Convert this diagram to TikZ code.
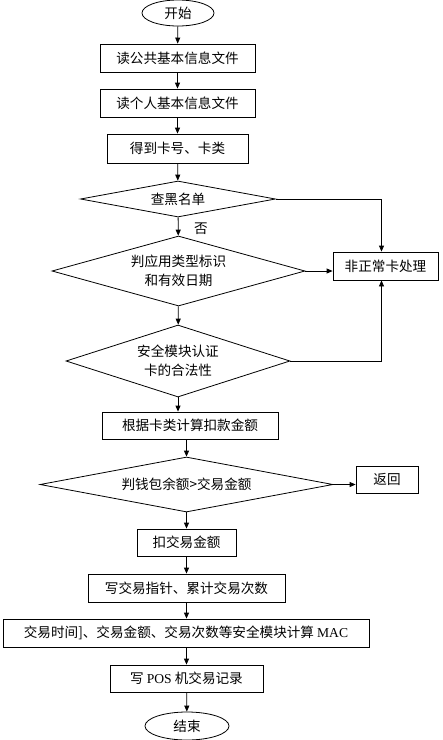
\documentclass[tikz,border=0pt]{standalone}
\usepackage{fontspec}
\setmainfont{Liberation Serif}
\newfontfamily\cjk{Noto Sans CJK SC}
\usetikzlibrary{shapes.geometric,arrows.meta}
\begin{document}
\begin{tikzpicture}[x=1pt,y=-1pt,
  every node/.style={font=\cjk\fontsize{13.6}{19}\selectfont, inner sep=0pt, align=center},
  procbox/.style={draw, line width=0.8pt, minimum height=28pt},
  decbox/.style={draw, diamond, line width=0.8pt},
  termbox/.style={draw, ellipse, line width=0.8pt},
  conn/.style={line width=0.8pt, -{Triangle[length=6pt,width=5pt]}},
  plain/.style={line width=0.8pt}]
\useasboundingbox (0,0) rectangle (443,740);
\node[termbox, minimum width=72pt, minimum height=26pt] (start) at (178,13) {开始};
\node[procbox, minimum width=155pt] (b1) at (177.5,58) {读公共基本信息文件};
\node[procbox, minimum width=155pt] (b2) at (177.5,103) {读个人基本信息文件};
\node[procbox, minimum width=141pt, minimum height=29pt] (b3) at (177.5,148.5) {得到卡号、卡类};
\node[decbox, minimum width=195pt, minimum height=36pt, shape aspect=5.4] (d1) at (178,199) {查黑名单};
\node (no) at (201,229) {否};
\node[decbox, minimum width=253pt, minimum height=70pt, shape aspect=3.6] (d2) at (178.5,271) {判应用类型标识\\和有效日期};
\node[procbox, minimum width=105pt] (abn) at (385.5,266) {非正常卡处理};
\node[decbox, minimum width=224pt, minimum height=72pt, shape aspect=3.1] (d3) at (178,361) {安全模块认证\\卡的合法性};
\node[procbox, minimum width=176pt, minimum height=27pt] (calc) at (190,425.5) {根据卡类计算扣款金额};
\node[decbox, minimum width=293pt, minimum height=55pt, shape aspect=5.3] (d4) at (186.5,484.5) {判钱包余额>交易金额};
\node[procbox, minimum width=62pt, minimum height=27pt] (ret) at (387,479.5) {返回};
\node[procbox, minimum width=99pt, minimum height=27pt] (b5) at (186.5,542.5) {扣交易金额};
\node[procbox, minimum width=197pt] (b6) at (186.5,588) {写交易指针、累计交易次数};
\node[procbox, minimum width=366pt] (b7) at (186,633) {交易时间]、交易金额、交易次数等安全模块计算 {\rmfamily MAC}};
\node[procbox, minimum width=153pt, minimum height=27pt] (b8) at (186.5,678.5) {写 {\rmfamily POS} 机交易记录};
\node[termbox, minimum width=84pt, minimum height=28pt] (end) at (187,726) {结束};

\draw[conn] (start) -- (b1);
\draw[conn] (b1) -- (b2);
\draw[conn] (b2) -- (b3);
\draw[conn] (b3) -- (d1);
\draw[conn] (d1) -- (d2);
\draw[conn] (d1.east) -| ([xshift=-4pt]abn.north);
\draw[conn] (d2.east) -- (d2.east -| abn.west);
\draw[conn] (d3.east) -| ([xshift=-4pt]abn.south);
\draw[conn] (d2) -- (d3);
\draw[conn] (d3.south) -- (d3.south |- calc.north);
\draw[conn] (calc.south -| d4.north) -- (d4.north);
\draw[conn] (d4.east) -- (d4.east -| ret.west);
\draw[conn] (d4) -- (b5);
\draw[conn] (b5) -- (b6);
\draw[conn] (b6) -- (b7.north -| b6.south);
\draw[conn] (b7.south -| b8.north) -- (b8);
\draw[conn] (b8) -- (end);
\end{tikzpicture}
\end{document}
